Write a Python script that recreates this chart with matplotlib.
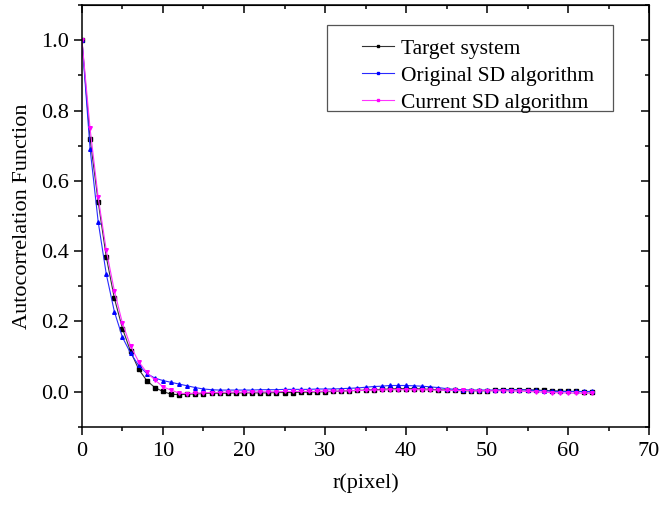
import numpy as np
import matplotlib
matplotlib.use("Agg")
import matplotlib.pyplot as plt
from matplotlib.patches import Rectangle
from matplotlib.ticker import MultipleLocator

plt.rcParams['font.family'] = ['Liberation Serif', 'DejaVu Serif']
plt.rcParams['mathtext.fontset'] = 'stix'

r = np.arange(64)

target = [1.0, 0.72, 0.541, 0.384, 0.266, 0.18, 0.115, 0.064, 0.032, 0.012,
          0.001, -0.007, -0.008, -0.007, -0.006, -0.005, -0.004, -0.004, -0.004, -0.003,
          -0.003, -0.003, -0.003, -0.003, -0.002, -0.002, -0.002, -0.001, -0.001, 0.0,
          0.0, 0.001, 0.002, 0.003, 0.004, 0.005, 0.006, 0.007, 0.008, 0.009,
          0.009, 0.009, 0.008, 0.007, 0.006, 0.005, 0.004, 0.003, 0.003, 0.003,
          0.003, 0.004, 0.005, 0.006, 0.006, 0.006, 0.005, 0.004, 0.003, 0.002,
          0.001, 0.001, 0.0, 0.0]

original = [1.0, 0.692, 0.484, 0.335, 0.228, 0.155, 0.11, 0.075, 0.052, 0.039,
            0.032, 0.027, 0.022, 0.017, 0.012, 0.008, 0.006, 0.005, 0.005, 0.005,
            0.005, 0.005, 0.006, 0.006, 0.006, 0.007, 0.007, 0.007, 0.007, 0.008,
            0.008, 0.008, 0.009, 0.010, 0.011, 0.013, 0.015, 0.016, 0.018, 0.018,
            0.018, 0.017, 0.016, 0.014, 0.012, 0.009, 0.007, 0.006, 0.005, 0.005,
            0.005, 0.005, 0.006, 0.006, 0.006, 0.005, 0.004, 0.003, 0.002, 0.001,
            0.001, 0.001, 0.001, 0.001]

current = [1.0, 0.749, 0.553, 0.403, 0.287, 0.195, 0.13, 0.086, 0.055, 0.034,
           0.014, 0.005, -0.004, -0.005, -0.004, -0.003, -0.002, -0.002, -0.001, -0.001,
           -0.001, -0.001, 0.0, 0.0, 0.0, 0.001, 0.001, 0.001, 0.001, 0.001,
           0.002, 0.002, 0.002, 0.003, 0.004, 0.004, 0.005, 0.005, 0.006, 0.006,
           0.006, 0.006, 0.006, 0.005, 0.005, 0.004, 0.004, 0.004, 0.003, 0.003,
           0.003, 0.003, 0.003, 0.002, 0.002, 0.001, 0.0, -0.001, -0.002, -0.003,
           -0.003, -0.004, -0.004, -0.004]

labels = ["Target system", "Original SD algorithm", "Current SD algorithm"]
colors = ["black", "#0000ff", "#ff00ff"]
line_colors = ["#333333", "#2a2aff", "#ff33ff"]
markers = ["s", "^", "v"]

fig = plt.figure(figsize=(6.61, 5.05), dpi=100)
ax = fig.add_axes([0.124, 0.1545, 0.858, 0.8355])

series = [target, original, current]
for y, lab, c, lc, m in zip(series, labels, colors, line_colors, markers):
    ax.plot(r, y, color=lc, lw=0.8, marker=m, ms=2.6, mec=c, mfc=c, label=lab)

ax.set_xlim(0, 70)
ax.set_ylim(-0.1, 1.1)
ax.xaxis.set_major_locator(MultipleLocator(10))
ax.xaxis.set_minor_locator(MultipleLocator(5))
yt = np.arange(0, 1.01, 0.2)
ax.set_yticks(yt)
ax.set_yticklabels([f"{v:.1f}" for v in yt])
ax.yaxis.set_minor_locator(MultipleLocator(0.1))

for s in ax.spines.values():
    s.set_linewidth(1.1)

ax.tick_params(which='both', direction='out', top=False, right=False,
               labelsize=16, width=1.1)
ax.tick_params(axis='x', pad=5)
ax.tick_params(axis='y', pad=3)
ax.tick_params(which='major', length=6)
ax.tick_params(which='minor', length=3)

# inward ticks on the top and right edges
sec_x = ax.secondary_xaxis('top')
sec_x.xaxis.set_major_locator(MultipleLocator(10))
sec_x.xaxis.set_minor_locator(MultipleLocator(5))
sec_x.tick_params(which='both', direction='in', labeltop=False, width=1.1)
sec_x.tick_params(which='major', length=6)
sec_x.tick_params(which='minor', length=3)
sec_y = ax.secondary_yaxis('right')
sec_y.yaxis.set_major_locator(MultipleLocator(0.2))
sec_y.yaxis.set_minor_locator(MultipleLocator(0.1))
sec_y.tick_params(which='both', direction='in', labelright=False, width=1.1)
sec_y.tick_params(which='major', length=6)
sec_y.tick_params(which='minor', length=3)

ax.set_xlabel("r(pixel)", fontsize=16, labelpad=9)
ax.set_ylabel("Autocorrelation Function", fontsize=16, labelpad=7)

ax.add_patch(Rectangle((0.432, 0.749), 0.5045, 0.2036, transform=ax.transAxes,
                       fill=False, edgecolor='#555555', lw=0.9, zorder=5))
leg_handles = []
for c, lc in zip(colors, line_colors):
    lh, = ax.plot([], [], color=lc, lw=0.8, marker='s', ms=1.5, mec=c, mfc=c)
    leg_handles.append(lh)
ax.legend(leg_handles, labels, loc='upper left', bbox_to_anchor=(0.494, 0.92),
          frameon=False, fontsize=15.5, handlelength=1.5, handletextpad=0.3,
          labelspacing=0.32, borderpad=0, borderaxespad=0)

fig.savefig("out.png", dpi=100)
